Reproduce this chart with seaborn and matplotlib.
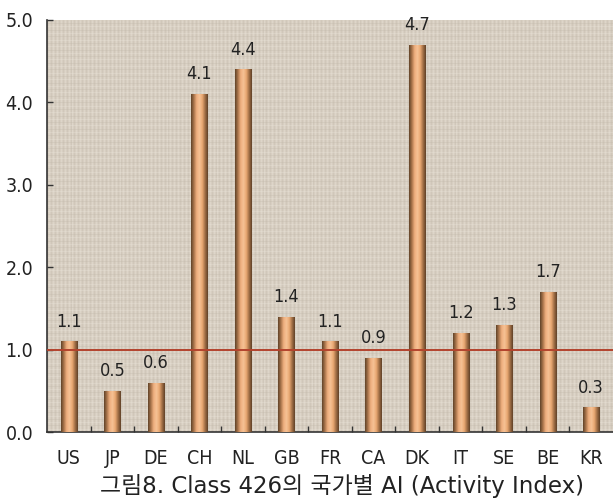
import numpy as np
import pandas as pd
import matplotlib
matplotlib.use("Agg")
import matplotlib.pyplot as plt
import seaborn as sns
from matplotlib.colors import LinearSegmentedColormap

countries = ["US", "JP", "DE", "CH", "NL", "GB", "FR", "CA", "DK", "IT", "SE", "BE", "KR"]
activity_index = [1.1, 0.5, 0.6, 4.1, 4.4, 1.4, 1.1, 0.9, 4.7, 1.2, 1.3, 1.7, 0.3]
y_ticks = [0.0, 1.0, 2.0, 3.0, 4.0, 5.0]
caption = "그림8. Class 426의 국가별 AI (Activity Index)"

sns.set_theme(style="white")
plt.rcParams["font.family"] = ["DejaVu Sans"]
plt.rcParams["font.stretch"] = "condensed"

df = pd.DataFrame({"country": countries, "ai": activity_index})

fig = plt.figure(figsize=(6.13, 5.01), dpi=100)
ax = fig.add_axes([0.0767, 0.1377, 0.9233, 0.8226])
ax.set_facecolor("#d7cec1")

n = len(countries)
# faint canvas weave
for i, x in enumerate(np.arange(-0.5, n - 0.5, 0.045)):
    ax.axvline(x, color="#eee8de" if i % 2 else "#bfb6a8", lw=0.5, alpha=0.4, zorder=0.2)
for i, y in enumerate(np.arange(0, 5.0, 0.04)):
    ax.axhline(y, color="#eee8de" if i % 2 else "#bfb6a8", lw=0.5, alpha=0.4, zorder=0.2)

sns.barplot(data=df, x="country", y="ai", ax=ax, width=0.37, color="#e8a373",
            edgecolor="none", zorder=3)

# cylinder shading on each bar
shade = LinearSegmentedColormap.from_list(
    "cyl", ["#5e4127", "#a7734a", "#eeae7e", "#f6c295", "#e9a872", "#a06e45", "#5e4027"])
grad = np.linspace(0, 1, 256).reshape(1, -1)
for p in list(ax.patches):
    x0, y0 = p.get_x(), p.get_y()
    w, h = p.get_width(), p.get_height()
    im = ax.imshow(grad, cmap=shade, extent=[x0, x0 + w, y0, y0 + h],
                   aspect="auto", zorder=4, interpolation="bilinear")
    im.set_clip_path(p)

for i, v in enumerate(activity_index):
    ax.text(i, v + 0.13, f"{v:.1f}", ha="center", va="bottom", fontsize=13,
            color="#222222", zorder=6)

ax.axhline(1.0, color="#b3432d", lw=1.4, zorder=5)

ax.set_xlim(-0.5, n - 0.5)
ax.set_ylim(0, 5.0)
ax.set_yticks(y_ticks)
ax.set_yticklabels([f"{t:.1f}" for t in y_ticks], fontsize=14, color="#222222")
ax.set_xticks(range(n))
ax.set_xticklabels(countries, fontsize=14, color="#222222")
ax.set_xticks(np.arange(0.5, n - 0.5, 1.0), minor=True)
ax.tick_params(axis="x", which="major", bottom=False, length=0, pad=12)
ax.tick_params(axis="x", which="minor", bottom=True, length=4, direction="in",
               color="#333333", width=1)
ax.tick_params(axis="y", which="major", left=True, length=4, direction="in",
               color="#333333", width=1, pad=10)
ax.set_xlabel("")
ax.set_ylabel("")

for s in ["top", "right"]:
    ax.spines[s].set_visible(False)
for s in ["left", "bottom"]:
    ax.spines[s].set_color("#333333")
    ax.spines[s].set_linewidth(1.2)

fig.text(0.558, 0.006, caption, ha="center", va="bottom", fontsize=16.5,
         color="#222222", family=["DejaVu Sans", "Noto Sans CJK KR"],
         fontstretch="normal")

fig.savefig("out.png", dpi=100)
